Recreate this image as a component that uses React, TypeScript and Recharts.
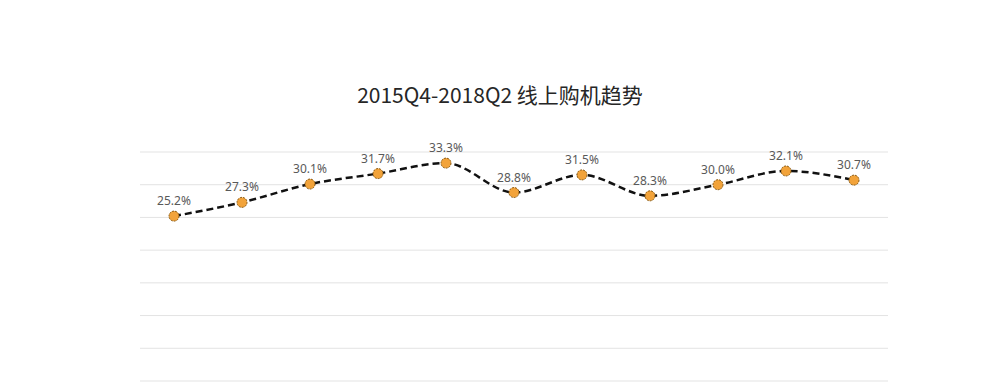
import React from 'react';
import { LineChart, Line, XAxis, YAxis, CartesianGrid, LabelList } from 'recharts';

const quarters = [
  '2015Q4', '2016Q1', '2016Q2', '2016Q3', '2016Q4',
  '2017Q1', '2017Q2', '2017Q3', '2017Q4', '2018Q1', '2018Q2',
];
const onlineShare = [25.2, 27.3, 30.1, 31.7, 33.3, 28.8, 31.5, 28.3, 30.0, 32.1, 30.7];
const yTicks = [0, 5, 10, 15, 20, 25, 30, 35];

const chartData = quarters.map((q, i) => ({ quarter: q, value: onlineShare[i] }));

const App: React.FC = () => {
  return (
    <div style={{ position: 'relative', width: 984, height: 376, background: '#fff' }}>
      <div
        style={{
          position: 'absolute',
          left: 0,
          right: 0,
          top: 72,
          textAlign: 'center',
          fontFamily: '"Noto Sans CJK SC", "Noto Sans", sans-serif',
          fontSize: 21,
          color: '#262626',
          lineHeight: '28px',
        }}
      >
        2015Q4-2018Q2 线上购机趋势
      </div>
      <LineChart
        width={984}
        height={376}
        data={chartData}
        margin={{ top: 144, right: 104, left: 132, bottom: 3 }}
      >
        <CartesianGrid vertical={false} stroke="#e3e3e3" strokeWidth={1} />
        <XAxis dataKey="quarter" hide padding={{ left: 34, right: 34 }} />
        <YAxis hide domain={[0, 35]} ticks={yTicks} />
        <Line
          type="monotone"
          dataKey="value"
          stroke="#111"
          strokeWidth={2.5}
          strokeDasharray="7 4"
          dot={{ r: 5, fill: '#F2A33A', stroke: '#8a5a12', strokeWidth: 1, strokeDasharray: '2 1' }}
          isAnimationActive={false}
        >
          <LabelList
            dataKey="value"
            position="top"
            offset={11}
            formatter={(v: number) => `${v.toFixed(1)}%`}
            style={{ fontFamily: '"Noto Sans", sans-serif', fontSize: 12, fill: '#595959' }}
          />
        </Line>
      </LineChart>
    </div>
  );
};

export default App;
